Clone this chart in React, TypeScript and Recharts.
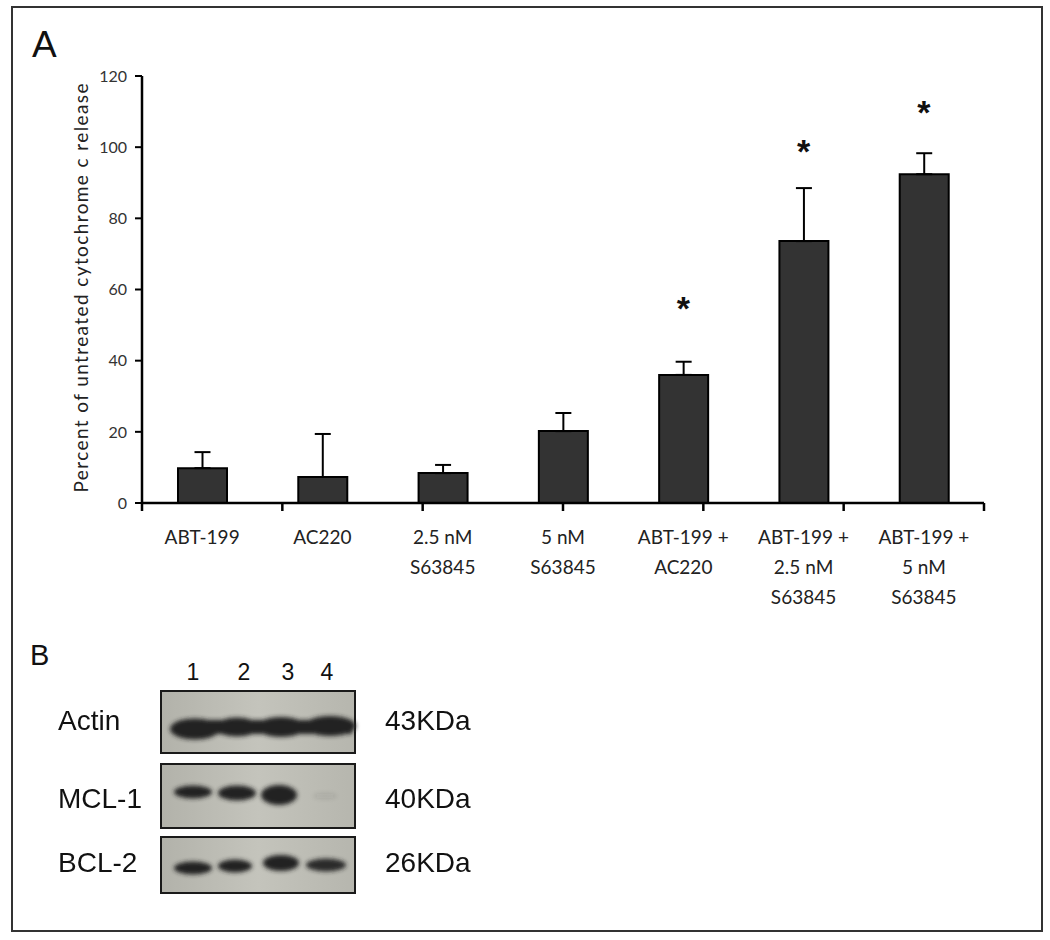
import React from "react";
import {
  ComposedChart,
  Bar,
  ErrorBar,
  Scatter,
  XAxis,
  YAxis,
} from "recharts";

const CATEGORIES = [
  "ABT-199",
  "AC220",
  "2.5 nM\nS63845",
  "5 nM\nS63845",
  "ABT-199 +\nAC220",
  "ABT-199 +\n2.5 nM\nS63845",
  "ABT-199 +\n5 nM\nS63845",
];
const RELEASE = [9.8, 7.3, 8.4, 20.2, 36.0, 73.6, 92.4];
const RELEASE_ERR = [4.5, 12.1, 2.3, 5.1, 3.7, 14.9, 5.9];
// position of the significance star, in axis units (null = no star)
const STAR_LEVEL: (number | null)[] = [null, null, null, null, 55.6, 99.7, 110.7];
const Y_TICKS = [0, 20, 40, 60, 80, 100, 120];
const EDGE_TICKS = [0, 1, 2, 3, 4, 5, 6, 7];

const LANES = ["1", "2", "3", "4"];
const BLOT_ROWS = ["Actin", "MCL-1", "BCL-2"];
const BLOT_SIZES = ["43KDa", "40KDa", "26KDa"];

const data = CATEGORIES.map((name, i) => ({
  name,
  value: RELEASE[i],
  err: [0, RELEASE_ERR[i]],
  star: STAR_LEVEL[i],
}));

const CategoryTick = (props: any) => {
  const { x, y, payload } = props;
  const lines = String(payload.value).split("\n");
  return (
    <text
      x={x}
      y={y}
      textAnchor="middle"
      fontFamily="Lato"
      fontSize={19}
      fill="#222"
    >
      {lines.map((l, i) => (
        <tspan key={i} x={x} dy={i === 0 ? 33 : 30}>
          {l}
        </tspan>
      ))}
    </text>
  );
};

const StarShape = (props: any) => {
  const { cx, cy, payload } = props;
  if (payload.star == null) return <g />;
  return (
    <text
      x={cx}
      y={cy}
      dy={15}
      textAnchor="middle"
      fontFamily="Liberation Sans"
      fontWeight="bold"
      fontSize={34}
      fill="#111"
    >
      *
    </text>
  );
};

const YLabel = () => {
  const cy = 288;
  const cx = 80;
  return (
    <text
      x={cx}
      y={cy}
      transform={`rotate(-90 ${cx} ${cy})`}
      textAnchor="middle"
      dominantBaseline="central"
      fontFamily="Lato"
      fontSize={19}
      textLength={409}
      lengthAdjust="spacing"
      fill="#222"
    >
      Percent of untreated cytochrome c release
    </text>
  );
};

// the western blot of panel B is a photograph, drawn here as plain svg
function Blot() {
  const boxes = [
    { y: 691, h: 62 },
    { y: 764, h: 64 },
    { y: 837, h: 56 },
  ];
  const actin = [
    { cx: 195, cy: 729, rx: 25, ry: 10.5 },
    { cx: 237, cy: 727, rx: 22, ry: 9.5 },
    { cx: 281, cy: 727, rx: 25, ry: 10 },
    { cx: 330, cy: 726, rx: 26, ry: 10 },
  ];
  const mcl = [
    { cx: 193, cy: 792, rx: 19, ry: 6.5, o: 1 },
    { cx: 237, cy: 793, rx: 19, ry: 7.5, o: 1 },
    { cx: 279, cy: 795, rx: 18, ry: 10, o: 1 },
    { cx: 325, cy: 796, rx: 12, ry: 3, o: 0.1 },
  ];
  const bcl = [
    { cx: 193, cy: 868, rx: 19, ry: 6.5, o: 1 },
    { cx: 235, cy: 866, rx: 17, ry: 6.5, o: 1 },
    { cx: 281, cy: 863, rx: 18, ry: 8, o: 1 },
    { cx: 326, cy: 865, rx: 20, ry: 6.5, o: 0.95 },
  ];
  const rowBase = [730, 808, 872];
  const laneX = [193, 244, 288, 327];
  return (
    <svg
      width={1050}
      height={940}
      style={{ position: "absolute", left: 0, top: 0, pointerEvents: "none" }}
    >
      <defs>
        <filter id="blur" x="-30%" y="-80%" width="160%" height="260%">
          <feGaussianBlur stdDeviation="2.2" />
        </filter>
        <linearGradient id="bg" x1="0" x2="1" y1="0" y2="0">
          <stop offset="0" stopColor="#b2b2aa" />
          <stop offset="0.5" stopColor="#c4c4bc" />
          <stop offset="1" stopColor="#b6b6ae" />
        </linearGradient>
      </defs>
      <text x={30} y={665} fontFamily="Liberation Sans" fontSize={29} fill="#111">
        B
      </text>
      {LANES.map((l, i) => (
        <text
          key={l}
          x={laneX[i]}
          y={680}
          textAnchor="middle"
          fontFamily="Liberation Sans"
          fontSize={23}
          fill="#111"
        >
          {l}
        </text>
      ))}
      {boxes.map((b, i) => (
        <rect
          key={i}
          x={161}
          y={b.y}
          width={194}
          height={b.h}
          fill="url(#bg)"
          stroke="#1a1a1a"
          strokeWidth={2}
        />
      ))}
      <g filter="url(#blur)" fill="#242424">
        <rect x={180} y={720} width={172} height={14} />
        {actin.map((b, i) => (
          <ellipse key={i} {...b} />
        ))}
        {mcl.map((b, i) => (
          <ellipse key={i} cx={b.cx} cy={b.cy} rx={b.rx} ry={b.ry} opacity={b.o} />
        ))}
        {bcl.map((b, i) => (
          <ellipse key={i} cx={b.cx} cy={b.cy} rx={b.rx} ry={b.ry} opacity={b.o} />
        ))}
      </g>
      {BLOT_ROWS.map((r, i) => (
        <text
          key={r}
          x={58}
          y={rowBase[i]}
          fontFamily="Liberation Sans"
          fontSize={28}
          fill="#111"
        >
          {r}
        </text>
      ))}
      {BLOT_SIZES.map((s, i) => (
        <text
          key={s}
          x={385}
          y={rowBase[i]}
          fontFamily="Liberation Sans"
          fontSize={28}
          fill="#111"
        >
          {s}
        </text>
      ))}
    </svg>
  );
}

export default function App() {
  return (
    <div
      style={{
        position: "absolute",
        left: 0,
        top: 0,
        width: 1050,
        height: 940,
        background: "#fff",
      }}
    >
      <div
        style={{
          position: "absolute",
          left: 11,
          top: 6,
          width: 1028,
          height: 922,
          border: "2px solid #333",
        }}
      />
      <svg
        width={1050}
        height={80}
        style={{ position: "absolute", left: 0, top: 0 }}
      >
        <text x={32} y={57} fontFamily="Liberation Sans" fontSize={37} fill="#111">
          A
        </text>
      </svg>
      <div style={{ position: "absolute", left: 0, top: 0 }}>
        <ComposedChart
          width={1050}
          height={640}
          data={data}
          margin={{ top: 76, right: 66, bottom: 9, left: 82 }}
        >
          <XAxis
            xAxisId="a"
            type="number"
            domain={[0, 7]}
            ticks={EDGE_TICKS}
            allowDataOverflow
            tickFormatter={() => ""}
            tickSize={8}
            height={8}
            axisLine={{ stroke: "#000", strokeWidth: 2.5 }}
            tickLine={{ stroke: "#000", strokeWidth: 2.5 }}
          />
          <XAxis
            xAxisId="b"
            dataKey="name"
            type="category"
            height={120}
            interval={0}
            axisLine={false}
            tickLine={false}
            tickSize={0}
            tickMargin={0}
            tick={<CategoryTick />}
          />
          <YAxis
            type="number"
            domain={[0, 120]}
            ticks={Y_TICKS}
            width={60}
            tickSize={7}
            tickMargin={8}
            axisLine={{ stroke: "#000", strokeWidth: 2.5 }}
            tickLine={{ stroke: "#000", strokeWidth: 2 }}
            tick={{ fontFamily: "Lato", fontSize: 16, fill: "#333" }}
            label={<YLabel />}
          />
          <Bar
            xAxisId="b"
            dataKey="value"
            barSize={49}
            fill="#333333"
            stroke="#000"
            strokeWidth={2}
            isAnimationActive={false}
          >
            <ErrorBar
              dataKey="err"
              direction="y"
              width={8}
              stroke="#000"
              strokeWidth={2}
              isAnimationActive={false}
            />
          </Bar>
          <Scatter
            xAxisId="b"
            dataKey="star"
            shape={<StarShape />}
            isAnimationActive={false}
          />
        </ComposedChart>
      </div>
      <Blot />
    </div>
  );
}
